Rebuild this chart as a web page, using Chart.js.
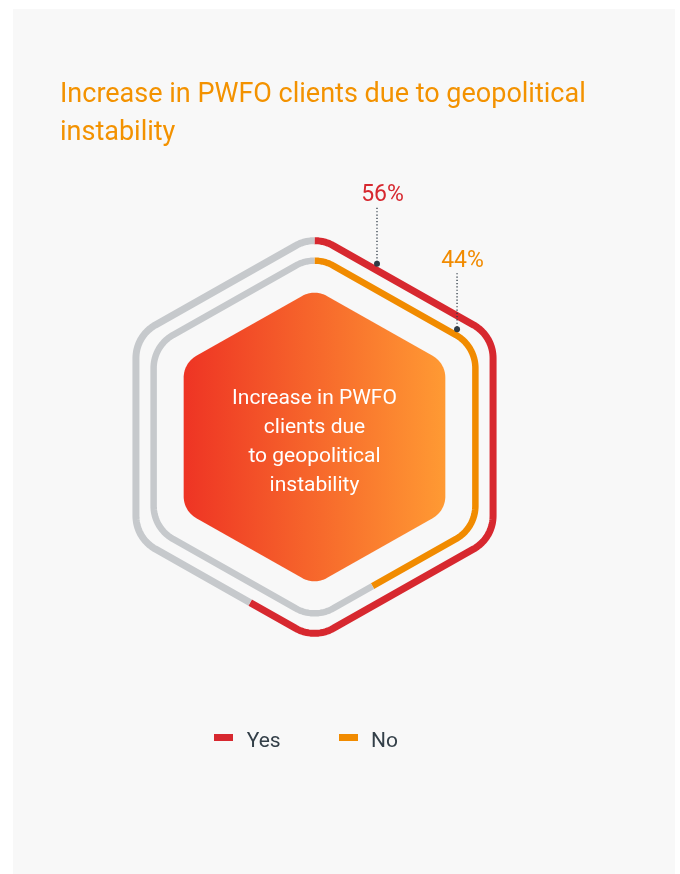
<!DOCTYPE html>
<html>
<head>
<meta charset="utf-8">
<script src="https://cdn.jsdelivr.net/npm/chart.js@4.4.1/dist/chart.umd.min.js"></script>
<style>
  html, body { margin:0; padding:0; background:#ffffff; width:680px; height:874px; overflow:hidden; font-family: Roboto, "Noto Sans", sans-serif; }
  #card { position:absolute; left:13px; top:9px; width:662px; height:865px; background:#f8f8f8; }
  #c { position:absolute; left:0; top:0; }
  #title { position:absolute; left:60px; top:73.5px; font-size:27px; line-height:38px; color:#f39200; white-space:nowrap; }
  #center { position:absolute; left:214.5px; width:200px; top:383px; text-align:center; color:#ffffff; font-size:21px; line-height:29px; }
  .sw { position:absolute; width:19px; height:7px; }
  .lt { position:absolute; font-size:21px; line-height:24px; color:#333f48; white-space:nowrap; }
</style>
</head>
<body>
<div id="card"></div>
<canvas id="c" width="680" height="874"></canvas>
<div id="title">Increase in PWFO clients due to geopolitical<br>instability</div>
<div id="center">Increase in PWFO<br>clients due<br>to geopolitical<br>instability</div>
<div id="legend"></div>
<script>
// ---- data ----
const categories = ['Yes', 'No'];
const values = [56, 44];          // percent of respondents

// ---- style ----
const seriesColors = ['#d7282f', '#f18b00'];
const restColor = '#c6c9cc';
const strokeWidths = [7, 6.5];
const cornerRadii = [38, 38];
const HEX_K = 0.884;              // width / vertex-radius of the hexagons
const CENTER_R = 148, CENTER_CORNER = 25;
const labelT = [0.35, 0.886];     // where the leader dot sits along the top-right edge

// legend (HTML)
const legendPos = [{sw:214, tx:246.7}, {sw:339.3, tx:371}];
const leg = document.getElementById('legend');
categories.forEach((c, i) => {
  const s = document.createElement('div'); s.className = 'sw';
  s.style.left = legendPos[i].sw + 'px'; s.style.top = '733.5px'; s.style.background = seriesColors[i];
  const t = document.createElement('div'); t.className = 'lt';
  t.style.left = legendPos[i].tx + 'px'; t.style.top = '727.5px'; t.textContent = c;
  leg.appendChild(s); leg.appendChild(t);
});

function hexVerts(cx, cy, R) {
  const w = R * HEX_K;
  return [[cx, cy - R], [cx + w, cy - R / 2], [cx + w, cy + R / 2], [cx, cy + R], [cx - w, cy + R / 2], [cx - w, cy - R / 2]];
}
function roundedHexPath(cx, cy, R, r) {
  const V = hexVerts(cx, cy, R);
  const n = 20, pts = [];
  for (let i = 0; i < 6; i++) {
    const P = V[i], A = V[(i + 5) % 6], B = V[(i + 1) % 6];
    let ua = [A[0] - P[0], A[1] - P[1]], ub = [B[0] - P[0], B[1] - P[1]];
    const la = Math.hypot(ua[0], ua[1]), lb = Math.hypot(ub[0], ub[1]);
    ua = [ua[0] / la, ua[1] / la]; ub = [ub[0] / lb, ub[1] / lb];
    const theta = Math.acos(ua[0] * ub[0] + ua[1] * ub[1]);
    const d = r / Math.tan(theta / 2);
    const T1 = [P[0] + ua[0] * d, P[1] + ua[1] * d], T2 = [P[0] + ub[0] * d, P[1] + ub[1] * d];
    let bis = [ua[0] + ub[0], ua[1] + ub[1]]; const lbis = Math.hypot(bis[0], bis[1]);
    bis = [bis[0] / lbis, bis[1] / lbis];
    const h = r / Math.sin(theta / 2);
    const C = [P[0] + bis[0] * h, P[1] + bis[1] * h];
    const a1 = Math.atan2(T1[1] - C[1], T1[0] - C[0]), a2 = Math.atan2(T2[1] - C[1], T2[0] - C[0]);
    let da = a2 - a1; while (da < -Math.PI) da += 2 * Math.PI; while (da > Math.PI) da -= 2 * Math.PI;
    for (let j = 0; j <= n; j++) { const a = a1 + da * j / n; pts.push([C[0] + r * Math.cos(a), C[1] + r * Math.sin(a)]); }
  }
  const mid = n / 2;
  const path = pts.slice(mid).concat(pts.slice(0, mid + 1));
  const cum = [0];
  for (let i = 1; i < path.length; i++) cum.push(cum[i - 1] + Math.hypot(path[i][0] - path[i - 1][0], path[i][1] - path[i - 1][1]));
  return { path, cum, L: cum[cum.length - 1], verts: V };
}
function pointAt(hp, s) {
  const { path, cum } = hp;
  for (let i = 1; i < path.length; i++) {
    if (cum[i] >= s) {
      const t = (s - cum[i - 1]) / ((cum[i] - cum[i - 1]) || 1);
      return [path[i - 1][0] + (path[i][0] - path[i - 1][0]) * t, path[i - 1][1] + (path[i][1] - path[i - 1][1]) * t];
    }
  }
  return path[path.length - 1];
}
function strokePortion(ctx, hp, f0, f1) {
  const s0 = f0 * hp.L, s1 = f1 * hp.L;
  const { path, cum } = hp;
  ctx.beginPath();
  const p0 = pointAt(hp, s0); ctx.moveTo(p0[0], p0[1]);
  for (let i = 1; i < path.length; i++) { if (cum[i] > s0 && cum[i] < s1) ctx.lineTo(path[i][0], path[i][1]); }
  const p1 = pointAt(hp, s1); ctx.lineTo(p1[0], p1[1]);
  ctx.stroke();
}
const angleToFrac = a => (a + Math.PI / 2) / (2 * Math.PI);

const hexPlugin = {
  id: 'hexRings',
  beforeDatasetsDraw(chart) {
    const el = chart.getDatasetMeta(0).data[0];
    const ctx = chart.ctx;
    const hp = roundedHexPath(el.x, el.y, CENTER_R, CENTER_CORNER);
    const w = CENTER_R * HEX_K;
    const g = ctx.createLinearGradient(el.x - w, 0, el.x + w, 0);
    g.addColorStop(0, '#ee3424'); g.addColorStop(1, '#ff9a33');
    ctx.save();
    ctx.beginPath();
    hp.path.forEach((p, i) => i ? ctx.lineTo(p[0], p[1]) : ctx.moveTo(p[0], p[1]));
    ctx.closePath(); ctx.fillStyle = g; ctx.fill();
    ctx.restore();
  },
  beforeDatasetDraw(chart, args) {
    const meta = args.meta, ctx = chart.ctx, i = args.index;
    ctx.save();
    ctx.lineJoin = 'round'; ctx.lineCap = 'butt';
    meta.data.forEach((arc, j) => {
      const p = arc.getProps(['x', 'y', 'startAngle', 'endAngle', 'innerRadius', 'outerRadius'], true);
      const R = (p.innerRadius + p.outerRadius) / 2;
      const hp = roundedHexPath(p.x, p.y, R, cornerRadii[i]);
      ctx.strokeStyle = arc.options.backgroundColor;
      ctx.lineWidth = strokeWidths[i];
      strokePortion(ctx, hp, angleToFrac(p.startAngle), angleToFrac(p.endAngle));
    });
    ctx.restore();
    return false;
  },
  afterDatasetsDraw(chart) {
    const ctx = chart.ctx;
    chart.data.datasets.forEach((ds, i) => {
      const arc = chart.getDatasetMeta(i).data[0];
      const R = (arc.innerRadius + arc.outerRadius) / 2;
      const V = hexVerts(arc.x, arc.y, R);
      const t = labelT[i];
      const dx = V[0][0] + (V[1][0] - V[0][0]) * t;
      const dy = V[0][1] + (V[1][1] - V[0][1]) * t - 6.5;
      ctx.save();
      ctx.strokeStyle = '#2c3844'; ctx.lineWidth = 1.3; ctx.setLineDash([1.2, 2.1]);
      ctx.beginPath(); ctx.moveTo(dx, dy - 56); ctx.lineTo(dx, dy); ctx.stroke();
      ctx.setLineDash([]);
      ctx.fillStyle = '#2f3b46';
      ctx.beginPath(); ctx.arc(dx, dy, 3, 0, Math.PI * 2); ctx.fill();
      ctx.fillStyle = seriesColors[i];
      ctx.font = '400 23px Roboto';
      ctx.textAlign = 'center'; ctx.textBaseline = 'alphabetic';
      ctx.fillText(ds.data[0] + '%', dx + 5.5, dy - 62.5);
      ctx.restore();
    });
  }
};

const outerR = 212, innerR = 172;
new Chart(document.getElementById('c'), {
  type: 'doughnut',
  data: {
    labels: ['Share', 'Rest'],
    datasets: categories.map((c, i) => ({
      label: c,
      data: [values[i], 100 - values[i]],
      backgroundColor: [seriesColors[i], restColor],
      borderWidth: 0
    }))
  },
  options: {
    responsive: false,
    animation: false,
    events: [],
    radius: outerR,
    cutout: (innerR / outerR * 100) + '%',
    layout: { padding: { left: 0, right: 51, top: 0, bottom: 0 } },
    plugins: { legend: { display: false }, tooltip: { enabled: false }, title: { display: false } }
  },
  plugins: [hexPlugin]
});
</script>
</body>
</html>
